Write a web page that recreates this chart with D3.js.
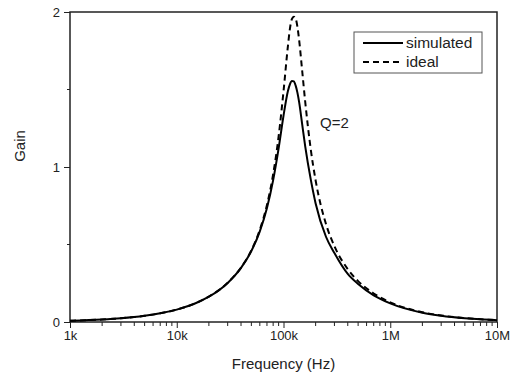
<!DOCTYPE html>
<html>
<head>
<meta charset="utf-8">
<script src="https://cdn.jsdelivr.net/npm/d3@7"></script>
<style>
  body { margin: 0; background: #fff; }
  svg { display: block; font-family: "Liberation Sans", Arial, sans-serif; }
</style>
</head>
<body>
<div id="chart"></div>
<script>
// frequency samples (Hz)
const freq = [1e3, 2e3, 3e3, 5e3, 7e3, 1e4, 1.5e4, 2e4, 3e4, 4e4, 5e4, 6e4, 7e4, 8e4, 9e4,
  1e5, 1.1e5, 1.15e5, 1.2e5, 1.25e5, 1.3e5, 1.35e5, 1.4e5, 1.5e5, 1.6e5, 1.8e5, 2e5,
  2.5e5, 3e5, 4e5, 5e5, 7e5, 1e6, 2e6, 3e6, 5e6, 7e6, 1e7];
// gain
const idealGain = [0.008, 0.016, 0.024, 0.040, 0.056, 0.080, 0.121, 0.164, 0.253, 0.351, 0.463, 0.595, 0.755, 0.953, 1.197,
  1.487, 1.780, 1.895, 1.955, 1.970, 1.958, 1.905, 1.821, 1.613, 1.416, 1.114, 0.913,
  0.632, 0.489, 0.341, 0.264, 0.184, 0.127, 0.063, 0.042, 0.025, 0.018, 0.012];
const simGain = [0.008, 0.016, 0.024, 0.040, 0.056, 0.080, 0.121, 0.163, 0.252, 0.349, 0.458, 0.585, 0.735, 0.915, 1.12,
  1.33, 1.49, 1.535, 1.555, 1.552, 1.525, 1.48, 1.42, 1.27, 1.13, 0.92, 0.765,
  0.55, 0.445, 0.31, 0.245, 0.172, 0.12, 0.06, 0.04, 0.024, 0.017, 0.012];

const xTicks = [1e3, 1e4, 1e5, 1e6, 1e7];
const xTickLabels = ["1k", "10k", "100k", "1M", "10M"];
const yTicks = [0, 1, 2];
const yMinor = [0.5, 1.5];

const W = 515, H = 378;
const margin = { top: 12, right: 18, bottom: 56, left: 70 };
const innerW = W - margin.left - margin.right;
const innerH = H - margin.top - margin.bottom;
const axisColor = "#222";

const svg = d3.select("#chart").append("svg")
  .attr("width", W).attr("height", H);
const g = svg.append("g")
  .attr("transform", "translate(" + margin.left + "," + margin.top + ")");

const x = d3.scaleLog().domain([1e3, 1e7]).range([0, innerW]);
const y = d3.scaleLinear().domain([0, 2]).range([innerH, 0]);

// minor ticks on the log axis: 2..9 in every decade
const xMinor = [];
xTicks.slice(0, -1).forEach(d => { for (let k = 2; k <= 9; k++) xMinor.push(d * k); });

// bottom axis
const xAxis = g.append("g").attr("transform", "translate(0," + innerH + ")");
xAxis.call(d3.axisBottom(x).tickValues(xTicks)
  .tickFormat((d, i) => xTickLabels[i]).tickSize(6).tickPadding(3));
xAxis.selectAll(".minor").data(xMinor).enter().append("line")
  .attr("class", "minor")
  .attr("x1", d => x(d)).attr("x2", d => x(d))
  .attr("y1", 0).attr("y2", 4)
  .attr("stroke", axisColor).attr("stroke-width", 1);

// left axis
const yAxis = g.append("g");
yAxis.call(d3.axisLeft(y).tickValues(yTicks).tickFormat(d3.format("d")).tickSize(6).tickPadding(4));
yAxis.selectAll(".minor").data(yMinor).enter().append("line")
  .attr("class", "minor")
  .attr("x1", 0).attr("x2", -3)
  .attr("y1", d => y(d)).attr("y2", d => y(d))
  .attr("stroke", axisColor).attr("stroke-width", 1);

[xAxis, yAxis].forEach(a => {
  a.select(".domain").remove();
  a.selectAll(".tick line").attr("stroke", axisColor).attr("stroke-width", 1);
  a.selectAll(".tick text").attr("fill", axisColor).style("font-size", "13px");
});

// frame
g.append("rect")
  .attr("x", 0).attr("y", 0).attr("width", innerW).attr("height", innerH)
  .attr("fill", "none").attr("stroke", axisColor).attr("stroke-width", 1.5);

// curves
const line = vals => d3.line()
  .x((d, i) => x(freq[i]))
  .y(d => y(d))
  .curve(d3.curveMonotoneX)(vals);

g.append("path")
  .attr("d", line(idealGain))
  .attr("fill", "none").attr("stroke", "#000").attr("stroke-width", 2)
  .attr("stroke-dasharray", "6,4");

g.append("path")
  .attr("d", line(simGain))
  .attr("fill", "none").attr("stroke", "#000").attr("stroke-width", 2);

// annotation
g.append("text")
  .attr("x", 250).attr("y", 116)
  .attr("fill", axisColor).style("font-size", "15px")
  .text("Q=2");

// legend
const legend = g.append("g").attr("transform", "translate(284,20)");
legend.append("rect")
  .attr("x", 0).attr("y", 0).attr("width", 128).attr("height", 41)
  .attr("fill", "#fff").attr("stroke", "#555").attr("stroke-width", 1);
const items = [
  { name: "simulated", dash: null },
  { name: "ideal", dash: "6,4" }
];
items.forEach((it, i) => {
  const yy = 11 + i * 19;
  legend.append("line")
    .attr("x1", 9).attr("x2", 49).attr("y1", yy).attr("y2", yy)
    .attr("stroke", "#000").attr("stroke-width", 2)
    .attr("stroke-dasharray", it.dash);
  legend.append("text")
    .attr("x", 52).attr("y", yy + 5)
    .attr("fill", axisColor).style("font-size", "15.5px")
    .text(it.name);
});

// axis titles
g.append("text")
  .attr("x", x(1e5)).attr("y", innerH + 47)
  .attr("text-anchor", "middle")
  .attr("fill", axisColor).style("font-size", "15px")
  .text("Frequency (Hz)");

g.append("text")
  .attr("transform", "translate(" + (25 - margin.left) + "," + (146 - margin.top) + ") rotate(-90)")
  .attr("text-anchor", "middle")
  .attr("fill", axisColor).style("font-size", "15px")
  .text("Gain");
</script>
</body>
</html>
